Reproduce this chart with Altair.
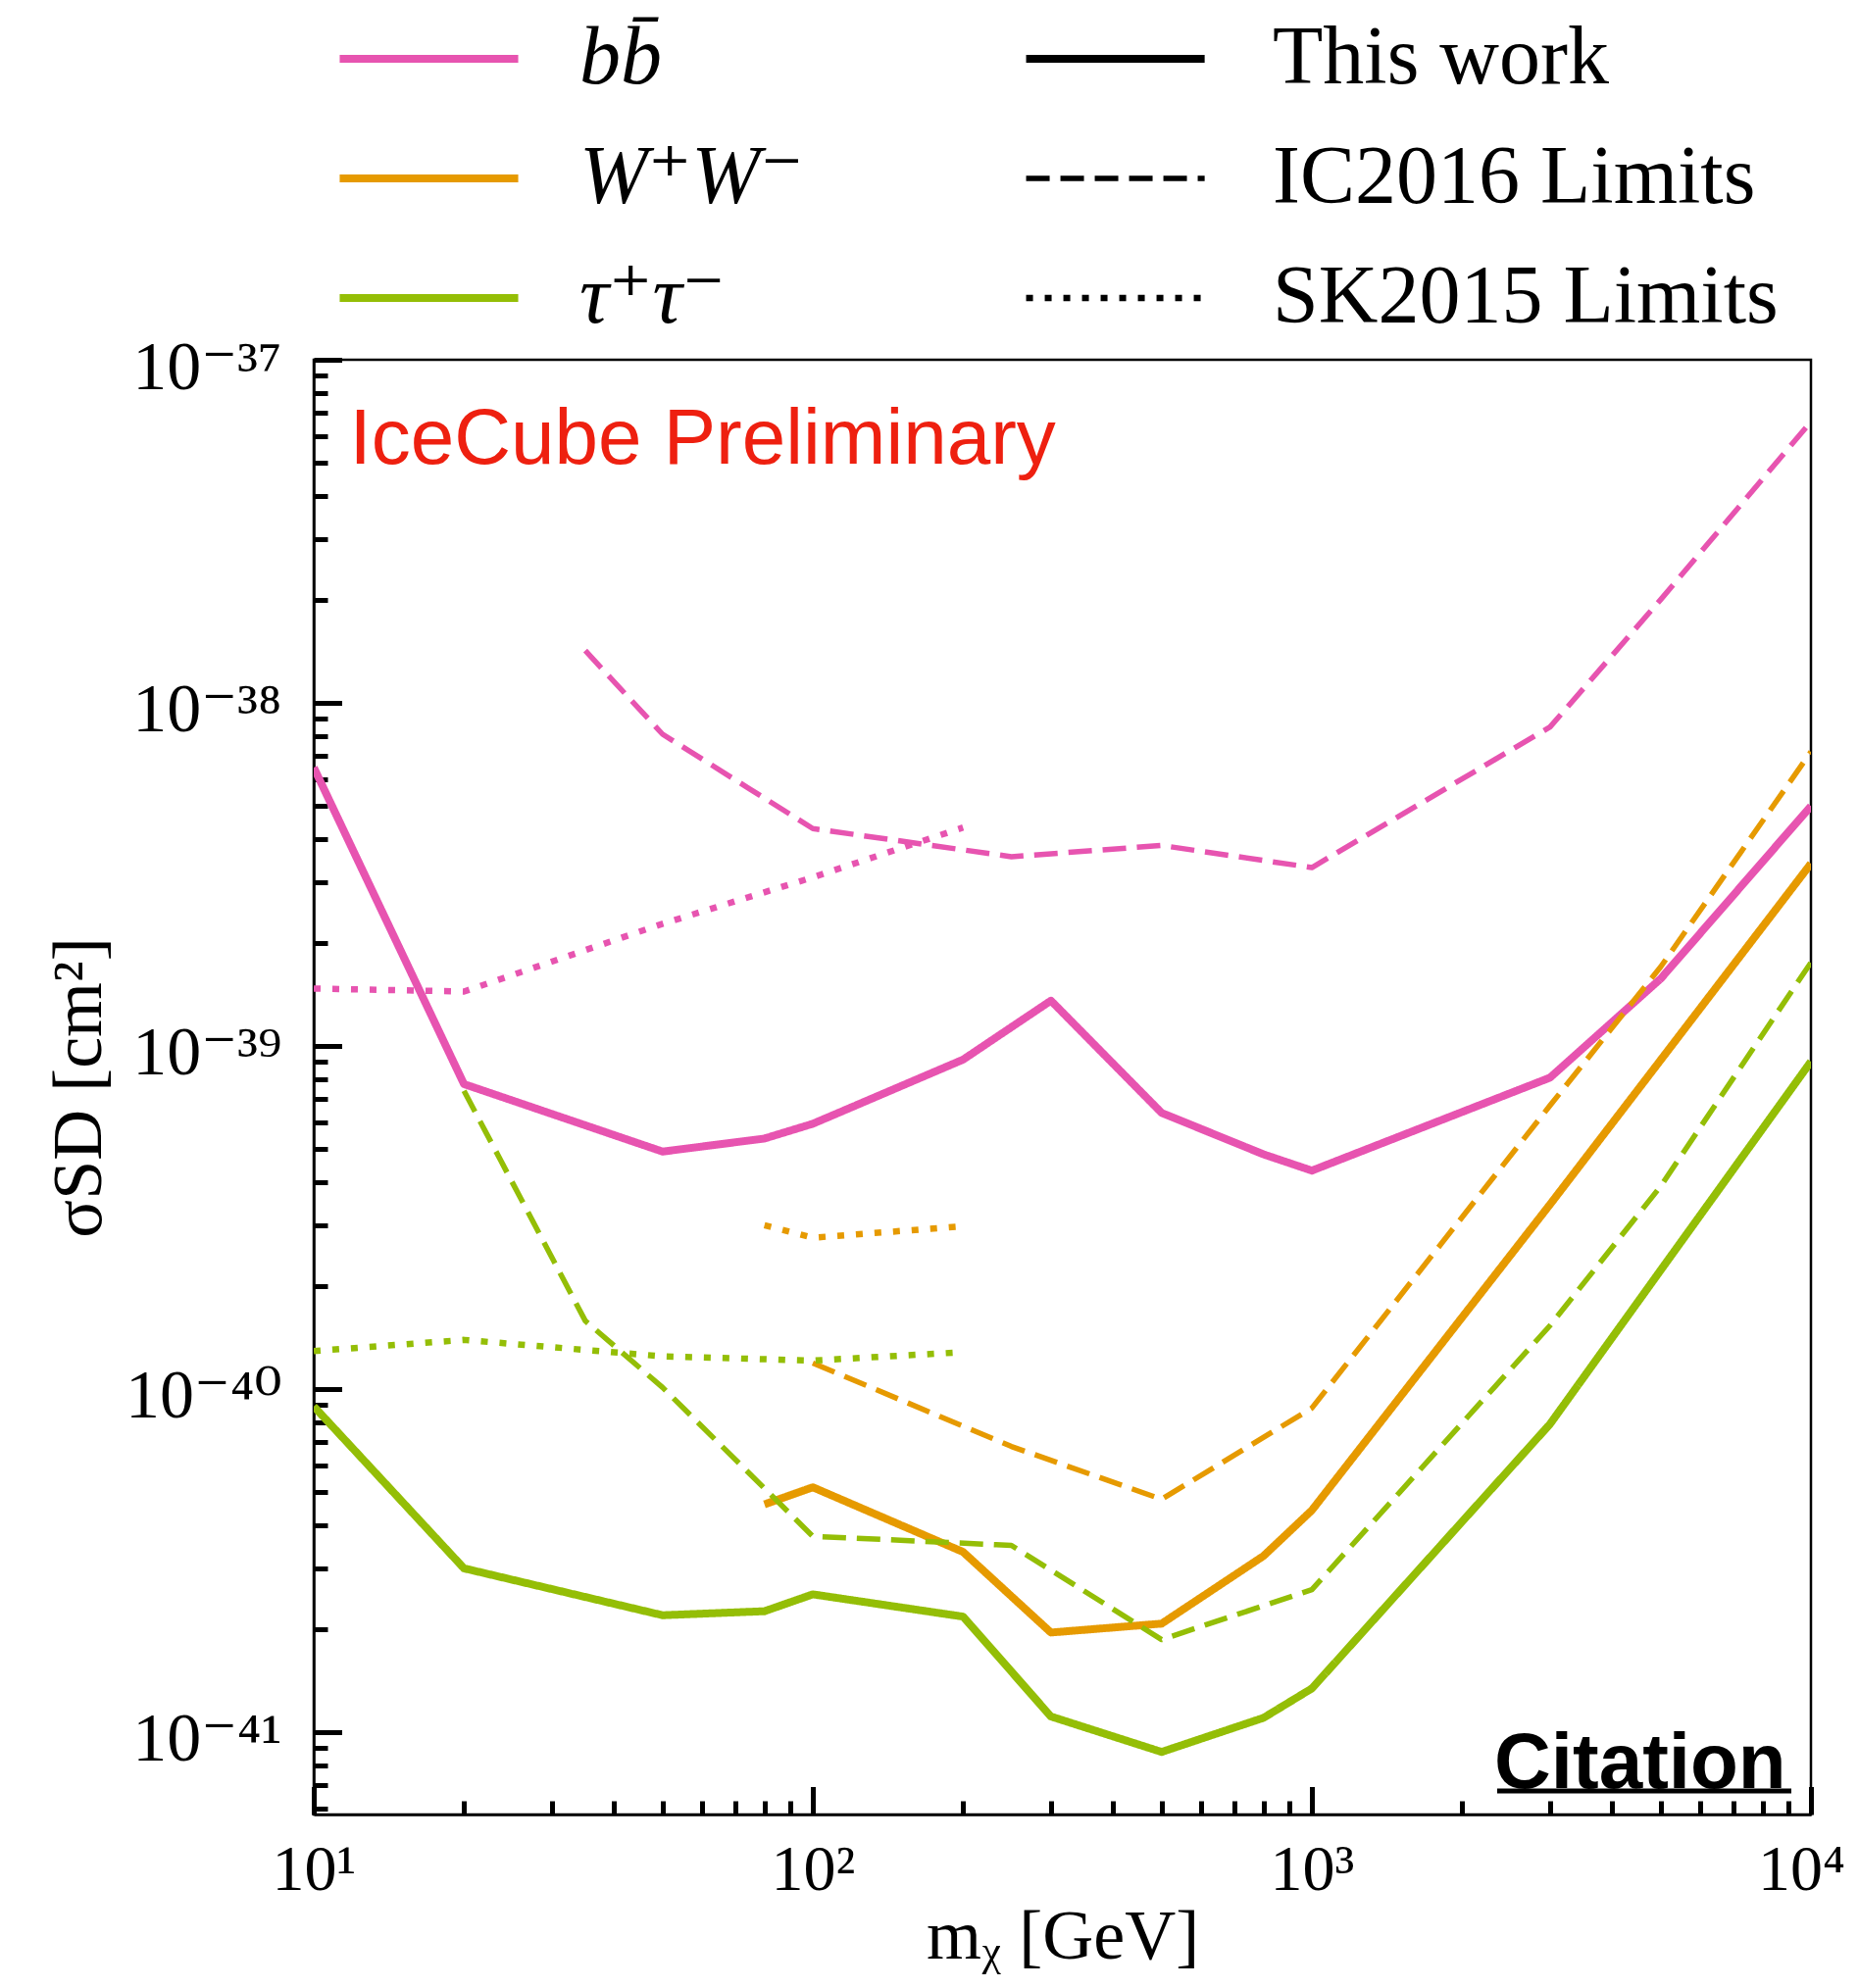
import math
import altair as alt
import pandas as pd

# ---------------- data ----------------
channels = ["bb\u0304", "W\u207aW\u207b", "\u03c4\u207a\u03c4\u207b"]
channel_colors = ["#E754B0", "#E69A00", "#94BE06"]
styles = ["This work", "IC2016 Limits", "SK2015 Limits"]
style_dashes = [[1, 0], [24, 11], [7, 12]]
style_widths = [8, 5.5, 6.5]

mass_this = [10, 20, 50, 80, 100, 200, 300, 500, 800, 1000, 3000, 5000, 10000]
sigma_bb_this = [6.48e-39, 7.74e-40, 4.92e-40, 5.37e-40, 5.93e-40, 9.12e-40, 1.355e-39,
                 6.38e-40, 4.83e-40, 4.33e-40, 8.08e-40, 1.57e-39, 5.0e-39]
sigma_tt_this = [8.9e-41, 3.0e-41, 2.19e-41, 2.25e-41, 2.52e-41, 2.17e-41, 1.11e-41,
                 8.75e-42, 1.1e-41, 1.34e-41, 7.9e-41, 2.22e-40, 9.0e-40]
mass_ww_this = [80, 100, 200, 300, 500, 800, 1000, 3000, 5000, 10000]
sigma_ww_this = [4.61e-41, 5.17e-41, 3.35e-41, 1.95e-41, 2.07e-41, 3.26e-41, 4.43e-41,
                 3.45e-40, 9.1e-40, 3.4e-39]

mass_bb_ic = [35, 50, 100, 250, 500, 1000, 3000, 5000, 10000]
sigma_bb_ic = [1.42e-38, 8.1e-39, 4.3e-39, 3.56e-39, 3.84e-39, 3.31e-39, 8.5e-39, 2.0e-38, 6.6e-38]
mass_ww_ic = [100, 250, 500, 1000, 3000, 5000, 10000]
sigma_ww_ic = [1.19e-40, 6.8e-41, 4.77e-41, 8.8e-41, 6.7e-40, 1.7e-39, 7.2e-39]
mass_tt_ic = [20, 35, 50, 100, 250, 500, 1000, 3000, 5000, 10000]
sigma_tt_ic = [7.4e-40, 1.58e-40, 1.01e-40, 3.72e-41, 3.5e-41, 1.86e-41, 2.6e-41, 1.53e-40, 3.9e-40, 1.75e-39]

mass_bb_sk = [10, 20, 50, 100, 200]
sigma_bb_sk = [1.47e-39, 1.44e-39, 2.27e-39, 3.1e-39, 4.33e-39]
mass_ww_sk = [80, 100, 200]
sigma_ww_sk = [3.0e-40, 2.76e-40, 2.98e-40]
mass_tt_sk = [10, 20, 50, 100, 200]
sigma_tt_sk = [1.29e-40, 1.39e-40, 1.245e-40, 1.21e-40, 1.28e-40]

x_tick_values = [10, 100, 1000, 10000]
x_tick_labels = ["10\u00b9", "10\u00b2", "10\u00b3", "10\u2074"]
y_tick_values = [1e-41, 1e-40, 1e-39, 1e-38, 1e-37]
y_tick_labels = ["10\u207b\u2074\u00b9", "10\u207b\u2074\u2070", "10\u207b\u00b3\u2079",
                 "10\u207b\u00b3\u2078", "10\u207b\u00b3\u2077"]
x_title = "m\u1d6a  [GeV]"
y_title = "\u03c3SD  [cm\u00b2]"
watermark_text = "IceCube Preliminary"
citation_text = "Citation"

# ---------------- table ----------------
series = [
    (channels[0], styles[0], mass_this, sigma_bb_this),
    (channels[1], styles[0], mass_ww_this, sigma_ww_this),
    (channels[2], styles[0], mass_this, sigma_tt_this),
    (channels[0], styles[1], mass_bb_ic, sigma_bb_ic),
    (channels[1], styles[1], mass_ww_ic, sigma_ww_ic),
    (channels[2], styles[1], mass_tt_ic, sigma_tt_ic),
    (channels[0], styles[2], mass_bb_sk, sigma_bb_sk),
    (channels[1], styles[2], mass_ww_sk, sigma_ww_sk),
    (channels[2], styles[2], mass_tt_sk, sigma_tt_sk),
]
rows = []
for ch, st, ms, ss in series:
    for m, s in zip(ms, ss):
        rows.append({"mass": m, "sigma": s, "channel": ch, "style": st})
df = pd.DataFrame(rows)


def label_expr(values, labels):
    expr = ""
    for i in range(len(values) - 1):
        thr = math.sqrt(values[i] * values[i + 1])
        expr += f"datum.value < {thr!r} ? '{labels[i]}' : "
    return expr + f"'{labels[-1]}'"


W, H = 1527, 1484
SERIF = "Liberation Serif, DejaVu Serif, serif"

x_scale = alt.Scale(type="log", domain=[10, 10000], nice=False)
y_scale = alt.Scale(type="log", domain=[5.75e-42, 1e-37], nice=False)

x_minor = [k * 10 ** e for e in (1, 2, 3) for k in range(2, 10)]
y_minor = [k * 10.0 ** e for e in range(-42, -37) for k in range(2, 10)
           if 5.75e-42 <= k * 10.0 ** e <= 1e-37]

lines = alt.Chart(df).mark_line(clip=True, strokeJoin="round").encode(
    x=alt.X("mass:Q", scale=x_scale, axis=alt.Axis(
        orient="bottom", values=x_tick_values, labelExpr=label_expr(x_tick_values, x_tick_labels),
        ticks=False, tickSize=0, domain=True, domainColor="black", domainWidth=2.5,
        labelFont=SERIF, labelFontSize=66, labelColor="black", labelPadding=24,
        labelOffset={"condition": {"test": "datum.value > 5000", "value": -10}, "value": 0},
        labelFlush=False, labelOverlap=False, labelAlign="center", labelBaseline="top",
        title=x_title, titleFont=SERIF, titleFontSize=72, titleFontWeight="normal",
        titleColor="black", titleX=W / 2, titleY=124, titleAlign="center",
        titleBaseline="middle", grid=False)),
    y=alt.Y("sigma:Q", scale=y_scale, axis=alt.Axis(
        orient="left", values=y_tick_values, labelExpr=label_expr(y_tick_values, y_tick_labels),
        ticks=False, tickSize=0, domain=True, domainColor="black", domainWidth=2.5,
        labelFont=SERIF, labelFontSize=70, labelColor="black", labelPadding=33,
        labelOffset=8, labelFlush=False, labelOverlap=False, labelAlign="right",
        labelBaseline="middle",
        title=y_title, titleFont=SERIF, titleFontSize=72, titleFontWeight="normal",
        titleColor="black", titleAngle=-90, titleX=-240, titleY=H / 2,
        titleAlign="center", titleBaseline="middle", grid=False)),
    color=alt.Color("channel:N", scale=alt.Scale(domain=channels, range=channel_colors),
                    legend=alt.Legend(
                        title=None, orient="none", legendX=75.5, legendY=-349,
                        direction="vertical", symbolType="M-3,0H3", symbolSize=3684,
                        symbolStrokeWidth=8, labelFont=SERIF, labelFontSize=84,
                        labelFontStyle="italic", labelColor="black", labelOffset=111.5,
                        rowPadding=38, padding=0, labelLimit=1000)),
    strokeDash=alt.StrokeDash("style:N", scale=alt.Scale(domain=styles, range=style_dashes),
                              legend=alt.Legend(
                                  title=None, orient="none", legendX=775.6, legendY=-349,
                                  direction="vertical", symbolType="M-3,0H3", symbolSize=3684,
                                  symbolStrokeWidth=7, symbolStrokeColor="black",
                                  labelFont=SERIF, labelFontSize=84, labelColor="black",
                                  labelOffset=118.4, rowPadding=38, padding=0,
                                  labelLimit=1000)),
    strokeWidth=alt.StrokeWidth("style:N", scale=alt.Scale(type="ordinal", domain=styles,
                                                           range=style_widths), legend=None),
)


def tick_layer(xvals, yvals, size):
    return alt.Chart(df).mark_point(opacity=0).encode(
        x=alt.X("mass:Q", scale=x_scale, title=None, axis=alt.Axis(
            orient="top", offset=-H, values=xvals, ticks=True, tickSize=size, tickWidth=5,
            tickColor="black", labels=False, domain=False, grid=False)),
        y=alt.Y("sigma:Q", scale=y_scale, title=None, axis=alt.Axis(
            orient="right", offset=-W, values=yvals, ticks=True, tickSize=size, tickWidth=5,
            tickColor="black", labels=False, domain=False, grid=False)),
    )


ticks_major = tick_layer(x_tick_values, y_tick_values, 28.5)
ticks_minor = tick_layer(x_minor, y_minor, 14)

note_df = pd.DataFrame({"text": [watermark_text]})
cit_df = pd.DataFrame({"text": [citation_text]})

ice = alt.Chart(note_df).mark_text(
    align="left", baseline="alphabetic", font="Liberation Sans", fontSize=80, color="#EE2010"
).encode(text="text:N", x=alt.value(36.5), y=alt.value(106))

cit = alt.Chart(cit_df).mark_text(
    align="left", baseline="alphabetic", font="Liberation Sans", fontSize=80,
    fontWeight="bold", color="black"
).encode(text="text:N", x=alt.value(1204), y=alt.value(1457))

underline = alt.Chart(cit_df).mark_rule(color="black", strokeWidth=5).encode(
    x=alt.value(1207), x2=alt.value(1507), y=alt.value(1460))

chart = alt.layer(lines, ticks_major, ticks_minor, ice, cit, underline).resolve_axis(
    x="independent", y="independent"
).properties(
    width=W, height=H,
    autosize=alt.AutoSizeParams(type="none"),
    padding={"left": 312, "top": 359, "right": 40, "bottom": 169},
).configure_view(stroke="black", strokeWidth=2.5).configure_axis(grid=False)

chart.save("out.html", embed_options={"renderer": "svg", "actions": False})
